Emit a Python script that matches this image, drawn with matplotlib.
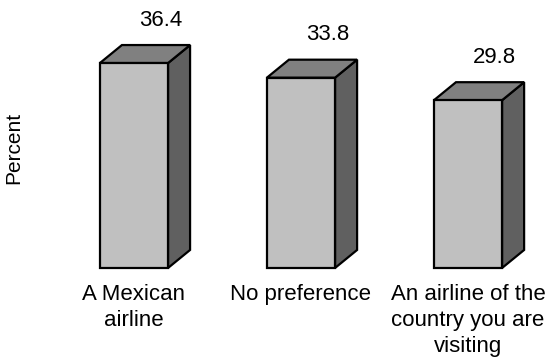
import matplotlib
matplotlib.use("Agg")
import matplotlib.pyplot as plt
from matplotlib.patches import Polygon

plt.rcParams['font.family'] = ['Liberation Sans', 'DejaVu Sans']

categories = ["A Mexican\nairline", "No preference",
              "An airline of the\ncountry you are\nvisiting"]
values = [36.4, 33.8, 29.8]
value_labels = ["36.4", "33.8", "29.8"]

front_col = "#c0c0c0"
top_col = "#808080"
side_col = "#606060"

fig = plt.figure(figsize=(5.48, 3.62), dpi=100)
ax = fig.add_axes([0, 0, 1, 1])
ax.set_xlim(-0.802, 2.479)
ax.set_ylim(-16.7, 47.6)
ax.axis("off")

hw = 0.204   # half width of the front face
dx = 0.132   # depth offset, horizontal
dy = 3.2     # depth offset, vertical (in percent units)

for i, v in enumerate(values):
    x0, x1 = i - hw, i + hw
    front = Polygon([(x0, 0), (x1, 0), (x1, v), (x0, v)],
                    facecolor=front_col, edgecolor="black", lw=1.6, joinstyle="miter")
    top = Polygon([(x0, v), (x1, v), (x1 + dx, v + dy), (x0 + dx, v + dy)],
                  facecolor=top_col, edgecolor="black", lw=1.6, joinstyle="miter")
    side = Polygon([(x1, 0), (x1 + dx, dy), (x1 + dx, v + dy), (x1, v)],
                   facecolor=side_col, edgecolor="black", lw=1.6, joinstyle="miter")
    for p in (side, top, front):
        ax.add_patch(p)
    ax.text(i + 0.16, v + 7.6, value_labels[i], ha="center", va="center", fontsize=16)
    ax.text(i, -2.85, categories[i], ha="center", va="top", fontsize=16,
            linespacing=1.3)

ax.text(-0.72, 21.3, "Percent", rotation=90, ha="center", va="center", fontsize=15)

fig.savefig("out.png", dpi=100)
